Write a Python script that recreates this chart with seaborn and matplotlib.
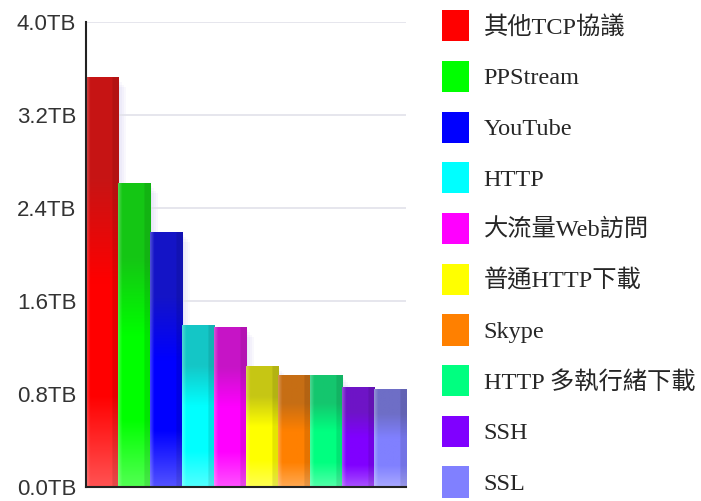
import numpy as np
import pandas as pd
import matplotlib
matplotlib.use('Agg')
import matplotlib.pyplot as plt
from matplotlib.patches import Patch, Rectangle
import seaborn as sns

# traffic per protocol (TB)
protocols = ['其他TCP協議', 'PPStream', 'YouTube', 'HTTP', '大流量Web訪問',
             '普通HTTP下載', 'Skype', 'HTTP 多執行緒下載', 'SSH', 'SSL']
traffic_tb = [3.52, 2.61, 2.19, 1.39, 1.37, 1.04, 0.96, 0.96, 0.86, 0.84]
colors = ['#FF0000', '#00FF00', '#0000FF', '#00FFFF', '#FF00FF',
          '#FFFF00', '#FF8000', '#00FF80', '#8000FF', '#8080FF']
y_ticks = [0.0, 0.8, 1.6, 2.4, 3.2, 4.0]

df = pd.DataFrame({'protocol': protocols, 'traffic': traffic_tb})

sns.set_theme(style='white')
plt.rcParams['font.family'] = ['Liberation Sans', 'DejaVu Sans']

fig = plt.figure(figsize=(7.01, 5.01), dpi=100)
ax = fig.add_axes([0.1227, 0.028, 0.4565, 0.928])

sns.barplot(data=df, x='protocol', y='traffic', hue='protocol',
            order=protocols, hue_order=protocols, palette=colors,
            width=1.0, legend=False, saturation=1, linewidth=0, ax=ax)


def glossy(rgb, n=120, m=40):
    # vertical: dark top -> bright middle -> light bottom
    c = np.array(rgb)
    dark = c * 0.78 + 0.08 * (1 - c)
    light = c + (1 - c) * 0.32
    t = np.linspace(0, 1, n)[:, None]
    w1 = np.clip((t - 0.25) / 0.25, 0, 1)
    w2 = np.clip((t - 0.78) / 0.22, 0, 1)
    col = dark * (1 - w1) + c * w1
    col = col * (1 - w2) + light * w2
    img = np.repeat(col[:, None, :], m, axis=1)
    # horizontal: light left edge, darker right edge
    s = np.linspace(0, 1, m)
    left = np.clip((0.12 - s) / 0.12, 0, 1)[None, :, None]
    right = (s > 0.82)[None, :, None]
    img = img * (1 - 0.25 * left) + 0.25 * left
    img = np.where(right, img * 0.9, img)
    return np.clip(img, 0, 1)


for patch, col in zip(ax.patches[:len(colors)], colors):
    x0, w, h = patch.get_x(), patch.get_width(), patch.get_height()
    # soft shadow to the right
    for k in range(1, 5):
        ax.add_patch(Rectangle((x0 + 0.06 * k, 0), w, h - 0.02 * k,
                               facecolor='#6a5acd', alpha=0.04,
                               edgecolor='none', zorder=patch.get_zorder() - 0.5))
    ax.imshow(glossy(matplotlib.colors.to_rgb(col)), extent=[x0, x0 + w, 0, h],
              aspect='auto', zorder=patch.get_zorder() + 0.1, interpolation='bilinear')

ax.set_xlim(-0.5, len(protocols) - 0.5)
ax.set_ylim(0, 4.0)
ax.set_yticks(y_ticks)
ax.set_yticklabels([f'{v:.1f}TB' for v in y_ticks], fontsize=16, color='#333333')
ax.set_xticks([])
ax.set_xlabel('')
ax.set_ylabel('')
ax.tick_params(axis='y', length=0, pad=7)
ax.grid(axis='y', color='#e2e2ea', linewidth=1.2)
ax.set_axisbelow(True)
for side in ['top', 'right']:
    ax.spines[side].set_visible(False)
for side in ['left', 'bottom']:
    ax.spines[side].set_color('#222222')
    ax.spines[side].set_linewidth(1.5)
    ax.spines[side].set_zorder(5)

handles = [Patch(facecolor=c, edgecolor='none') for c in colors]
fig.legend(handles, protocols, loc='upper left', bbox_to_anchor=(0.617, 0.999),
           frameon=False, prop={'family': ['Liberation Serif', 'Noto Sans CJK TC'], 'size': 17.5},
           handlelength=1.1, handleheight=1.6, handletextpad=0.6, labelspacing=0.8,
           borderaxespad=0.0)

fig.savefig('out.png', dpi=100)
